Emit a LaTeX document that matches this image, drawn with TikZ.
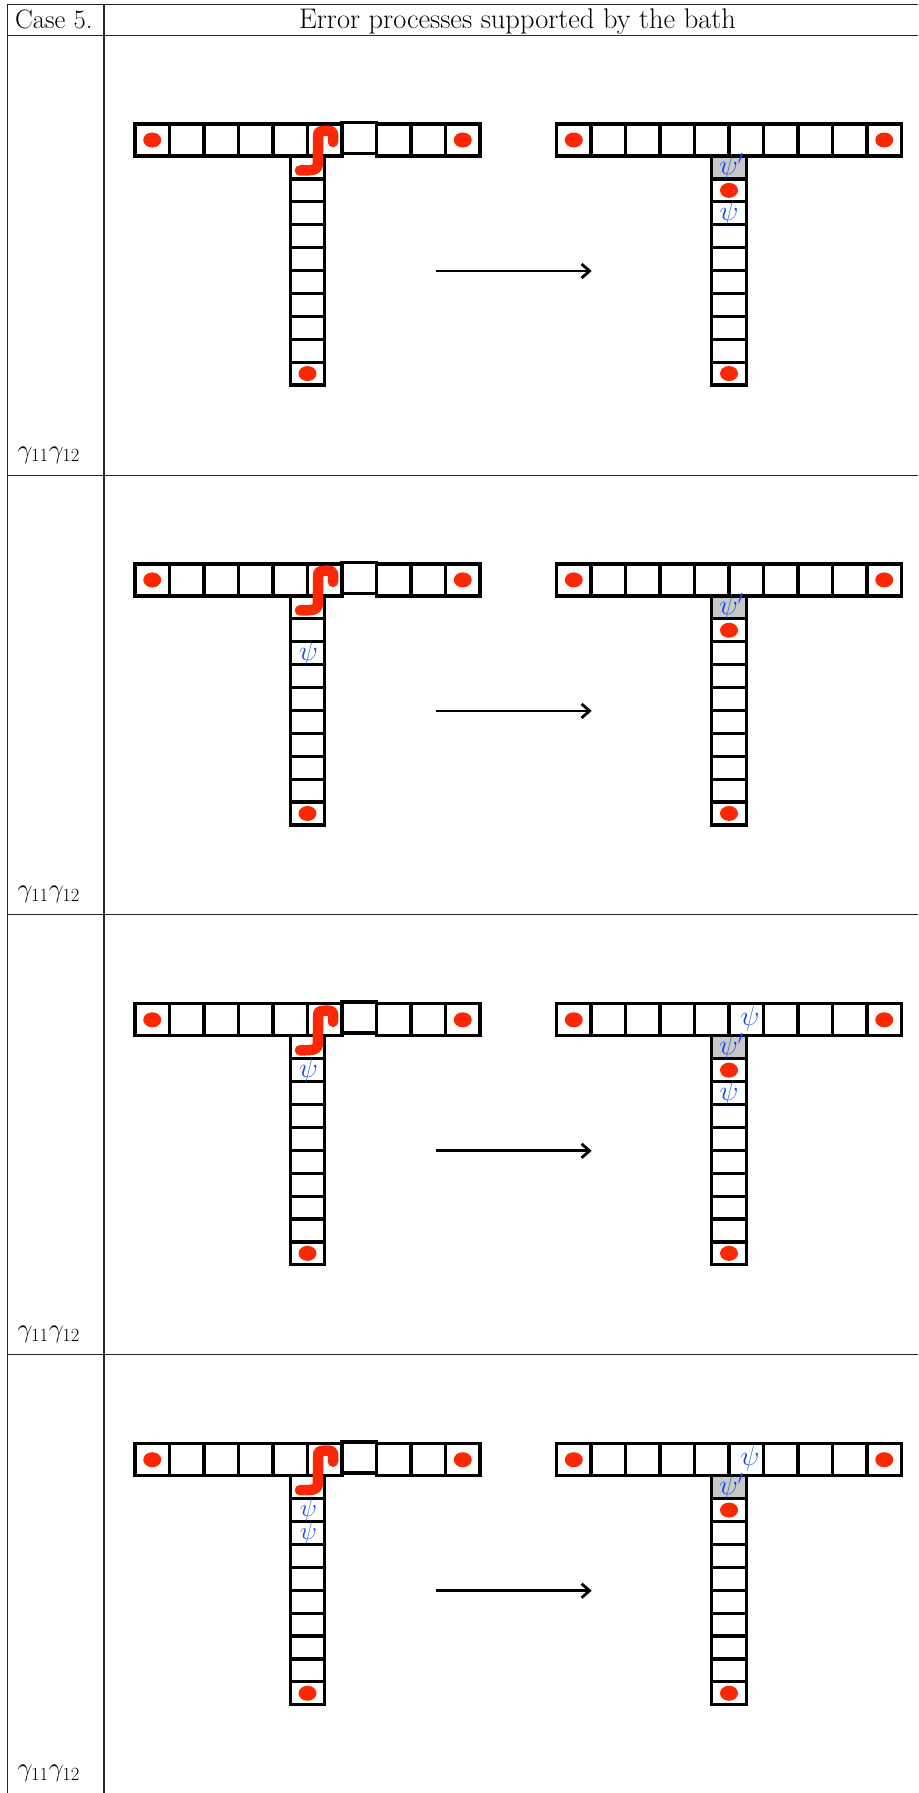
\RequirePackage{fix-cm}
\documentclass[tikz,border=0pt]{standalone}
\usetikzlibrary{arrows.meta}
\definecolor{dotred}{RGB}{250,40,5}
\definecolor{psiblue}{RGB}{20,75,235}
\definecolor{cellgray}{RGB}{200,200,200}
\tikzset{
  cellline/.style={line width=3.2pt, draw=black},
  reddot/.style={fill=dotred, draw=none},
  psilabel/.style={text=psiblue, inner sep=0pt, anchor=base, font=\fontsize{28}{32}\selectfont},
  psismall/.style={psilabel, font=\fontsize{25}{28}\selectfont},
  lbl/.style={inner sep=0pt, font=\fontsize{26.6}{32}\selectfont},
  titlelbl/.style={inner sep=0pt, font=\fontsize{28.4}{32}\selectfont},
  tablerule/.style={line width=1.1pt, draw=black!85},
  squig/.style={draw=dotred, line width=10.5pt, line cap=round, line join=round},
  bigarrow/.style={line width=2.8pt, -{Straight Barb[length=8pt,width=14pt,line width=2.8pt]}},
}
\newcommand\dotat[1]{\fill[reddot] (#1) ellipse [x radius=9pt, y radius=7.5pt];}
\newcommand\psitext{\smash{$\psi$}}
\newcommand\psiprime{\smash{$\psi'$}}
\newcommand\columncells{%
  \foreach \j in {0,...,9} {\draw[cellline] (155.25,{32+\j*22.9}) rectangle ++(34.5,22.9);}%
}
\newcommand\leftT{%
  \foreach \i in {0,1,2,3,4,5,7,8,9} {\draw[cellline] ({\i*34.5},0) rectangle ++(34.5,32);}%
  \draw[cellline] (207,-1.8) rectangle ++(34.5,31);
  \columncells
  \dotat{17.25,16}
  \dotat{327.75,16}
  \dotat{172.5,249.55}
  \draw[squig] (198,18) -- (198,10.5) .. controls (198,6.5) and (194,6.5) .. (188,7)
     -- (185,7.5) .. controls (183.3,8.5) .. (183.2,14)
     -- (182.8,41) .. controls (182.5,46) and (178,46.5) .. (165,46.5);
}
\newcommand\rightT{%
  \fill[cellgray] (155.25,32) rectangle ++(34.5,22.9);
  \foreach \i in {0,...,9} {\draw[cellline] ({\i*34.5},0) rectangle ++(34.5,32);}%
  \columncells
  \dotat{17.25,16}
  \dotat{327.75,16}
  \dotat{172.5,249.55}
  \dotat{172.5,66.35}
}
\begin{document}
\begin{tikzpicture}[x=1pt,y=-1pt]
\useasboundingbox (0,0) rectangle (918,1793);
% table
\draw[tablerule] (7.3,4.5) -- (918,4.5);
\draw[tablerule] (7.3,35.5) -- (918,35.5);
\draw[tablerule] (7.3,475.6) -- (918,475.6);
\draw[tablerule] (7.3,914.8) -- (918,914.8);
\draw[tablerule] (7.3,1354.8) -- (918,1354.8);
\draw[tablerule] (7.3,4.5) -- (7.3,1793);
\draw[tablerule] (104,4.5) -- (104,1793);
\node[lbl, anchor=base west] (case) at (15,28.3) {Case 5.};
\node[titlelbl, anchor=base] (title) at (517.5,28.3) {Error processes supported by the bath};
\node[lbl, anchor=base west] (g1) at (17.5,458) {$\gamma_{11}\gamma_{12}$};
\node[lbl, anchor=base west] (g2) at (17.5,897.2) {$\gamma_{11}\gamma_{12}$};
\node[lbl, anchor=base west] (g3) at (17.5,1337.2) {$\gamma_{11}\gamma_{12}$};
\node[lbl, anchor=base west] (g4) at (17.5,1776) {$\gamma_{11}\gamma_{12}$};
% row 1
\begin{scope}[shift={(0,124)}]
  \coordinate (a1s) at (436,147); \coordinate (a1e) at (591.7,147);
  \draw[bigarrow] (a1s) -- (a1e);
  \begin{scope}[shift={(135,0)}] \leftT \end{scope}
  \begin{scope}[shift={(556.5,0)}] \rightT
    \node[psilabel] (r1p) at (175,50.5) {\psiprime};
    \node[psilabel] (r1q) at (172.5,96.3) {\psitext};
  \end{scope}
\end{scope}
% row 2
\begin{scope}[shift={(0,563.9)}]
  \coordinate (a2s) at (436,147); \coordinate (a2e) at (591.7,147);
  \draw[bigarrow] (a2s) -- (a2e);
  \begin{scope}[shift={(135,0)}] \leftT
    \node[psilabel] (l2q) at (173.5,96.3) {\psitext};
  \end{scope}
  \begin{scope}[shift={(556.5,0)}] \rightT
    \node[psilabel] (r2p) at (175,50.5) {\psiprime};
  \end{scope}
\end{scope}
% row 3
\begin{scope}[shift={(0,1003.8)}]
  \coordinate (a3s) at (436,147); \coordinate (a3e) at (591.7,147);
  \draw[bigarrow] (a3s) -- (a3e);
  \begin{scope}[shift={(135,0)}] \leftT
    \node[psilabel] (l3q) at (173.5,73.4) {\psitext};
  \end{scope}
  \begin{scope}[shift={(556.5,0)}] \rightT
    \node[psilabel] (r3b) at (193.5,22) {\psitext};
    \node[psilabel] (r3p) at (175,50.5) {\psiprime};
    \node[psilabel] (r3q) at (172.5,96.3) {\psitext};
  \end{scope}
\end{scope}
% row 4
\begin{scope}[shift={(0,1443.7)}]
  \coordinate (a4s) at (436,147); \coordinate (a4e) at (591.7,147);
  \draw[bigarrow] (a4s) -- (a4e);
  \begin{scope}[shift={(135,0)}] \leftT
    \node[psismall] (l4q) at (173.5,72.6) {\psitext};
    \node[psismall] (l4r) at (173.5,95.6) {\psitext};
  \end{scope}
  \begin{scope}[shift={(556.5,0)}] \rightT
    \node[psilabel] (r4b) at (193.5,22) {\psitext};
    \node[psilabel] (r4p) at (175,50.5) {\psiprime};
  \end{scope}
\end{scope}
\end{tikzpicture}
\end{document}
